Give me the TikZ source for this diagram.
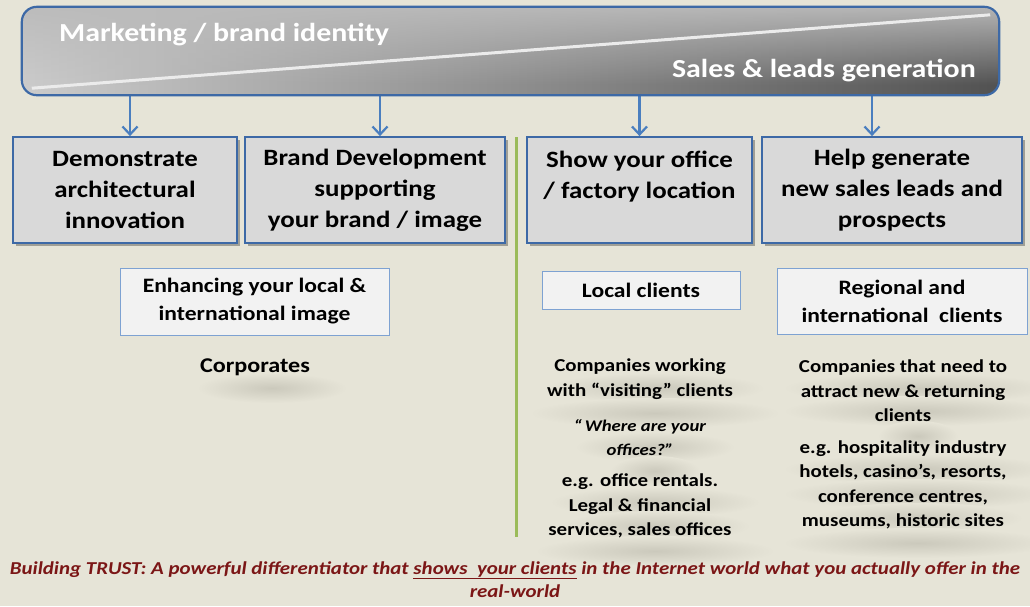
\documentclass[tikz,border=0pt]{standalone}
\usepackage{fontspec}
\setmainfont{Carlito}[FakeStretch=1.15]
\usetikzlibrary{arrows.meta,shadows,fadings}

\definecolor{bgc}{HTML}{E6E4D7}
\definecolor{frameblue}{HTML}{3D69A6}
\definecolor{arrowblue}{HTML}{4A7EBF}
\definecolor{boxgray}{HTML}{D9D9D9}
\definecolor{paleface}{HTML}{F2F2F2}
\definecolor{paleframe}{HTML}{7EA2D2}
\definecolor{divgreen}{HTML}{9BBB59}
\definecolor{trustred}{HTML}{7B1616}
\definecolor{softshadow}{HTML}{CBC9BC}
\definecolor{bannerlight}{HTML}{CBCBCB}
\definecolor{bannermid}{HTML}{626262}
\definecolor{bannerdark}{HTML}{525252}
\definecolor{bannertop}{HTML}{BBBBBB}

% band that lightens the upper edge of the banner
\tikzfading[name=topglow, top color=transparent!0, bottom color=transparent!100]

\tikzset{
  goalbox/.style={draw=frameblue, line width=1.8pt, fill=boxgray,
    minimum width=#1, minimum height=106pt, align=center, inner sep=0pt,
    font=\fontsize{23.4}{31}\selectfont\bfseries,
    drop shadow={shadow xshift=2.5pt, shadow yshift=-2.5pt, fill=black, opacity=0.3}},
  audbox/.style={draw=paleframe, line width=1pt, fill=paleface,
    minimum width=#1, align=center, inner sep=0pt,
    font=\fontsize{20.5}{28}\selectfont\bfseries},
  bannertext/.style={text=white, inner sep=0pt, font=\fontsize{26}{30}\selectfont\bfseries},
  coltext/.style={align=center, inner sep=0pt, font=\fontsize{18.2}{24.5}\selectfont\bfseries},
  quotetext/.style={align=center, inner sep=0pt, font=\fontsize{16.3}{24}\selectfont\bfseries\itshape},
  trust/.style={align=center, inner sep=0pt, text=trustred,
    font=\fontsize{18.2}{23}\selectfont\bfseries\itshape},
  feed/.style={draw=arrowblue, line width=2.2pt,
    -{Straight Barb[length=8pt, width=15pt, line width=2.2pt]}},
}

% blurred drop of a text line
\newcommand\softdrop[3]{%
  \shade[inner color=softshadow, outer color=bgc] (#1,#2) ellipse ({#3 pt} and 15pt);}

\begin{document}
\begin{tikzpicture}[x=1pt, y=-1pt]
\useasboundingbox (0,0) rectangle (1030,606);
\fill[bgc] (0,0) rectangle (1030,606);

% soft shadows under the free text
\softdrop{272}{388}{75}
\foreach \cy/\rx in {388/110, 413/125, 447/80, 471/45, 502/105, 526/95, 551/120}
  {\softdrop{655}{\cy}{\rx}}
\foreach \cy/\rx in {388/135, 411/135, 436/40, 469/135, 494/135, 518/105, 543/135}
  {\softdrop{918}{\cy}{\rx}}

% banner
\node[minimum width=977pt, minimum height=88pt, rounded corners=15pt,
      left color=bannerlight, middle color=bannermid, right color=bannerdark,
      inner sep=0pt] (banner) at (510.5,51) {};
\begin{scope}
  \clip[rounded corners=15pt] (banner.north west) rectangle (banner.south east);
  \fill[bannertop, opacity=0.95, path fading=topglow]
    (banner.north west) rectangle ([yshift=-34pt]banner.east);
\end{scope}
\draw[white!92!black, line width=3pt]
  ([xshift=10pt, yshift=7pt]banner.south west) -- ([xshift=-9pt, yshift=-8pt]banner.north east);
\node[bannertext, anchor=base west] (mkt) at (59,41) {Marketing / brand identity};
\node[bannertext, anchor=base east] (sales) at (976,77) {Sales \& leads generation};

% goal boxes
\node[goalbox=224pt] (b1) at (125,190) {Demonstrate\\architectural\\innovation};
\node[goalbox=260pt] (b2) at (375,190) {Brand Development\\supporting\\your brand / image};
\node[goalbox=225pt] (b3) at (639.5,190) {Show your office\\/ factory location\\\mbox{}};
\node[goalbox=260pt] (b4) at (892,190) {Help generate\\new sales leads and\\prospects};

% feeds from the banner
\foreach \b/\dx in {b1/5, b2/5, b3/0, b4/-20}{
  \coordinate (t\b) at ([xshift=\dx pt]\b.north);
  \draw[feed] (banner.south -| t\b) -- (t\b);
}
\draw[frameblue, line width=2.2pt, rounded corners=15pt]
  (banner.north west) rectangle (banner.south east);

% divider
\draw[divgreen, line width=3pt] (516,137) -- (516,537);

% audiences
\node[audbox=269pt, minimum height=67pt] (img) at (254.5,301.5) {Enhancing your local \&\\international image};
\node[audbox=198pt, minimum height=38pt] (local) at (641,290) {Local clients};
\node[audbox=250pt, minimum height=66pt] (regional) at (902,301.5) {Regional and\\international\ \ clients};

\node[coltext, font=\fontsize{21}{24}\selectfont\bfseries] (corp) at (255,367) {Corporates};

\node[coltext] (visit) at (640,379) {Companies working\\with “visiting” clients};
\node[quotetext] (where) at (640,438) {“\,Where are your\\offices?”};
\node[coltext] (rentals) at (640,506) {e.g. office rentals.\\Legal \& financial\\services, sales offices};

\node[coltext] (attract) at (903,391) {Companies that need to\\attract new \& returning\\clients};
\node[coltext] (hosp) at (903,485) {e.g. hospitality industry\\hotels, casino’s, resorts,\\conference centres,\\museums, historic sites};

% closing statement
\node[trust] (trustline) at (515,579.5) {Building TRUST: A powerful differentiator that \underline{shows\ \ your clients} in the Internet world what you actually offer in the\\real-world};
\end{tikzpicture}
\end{document}
